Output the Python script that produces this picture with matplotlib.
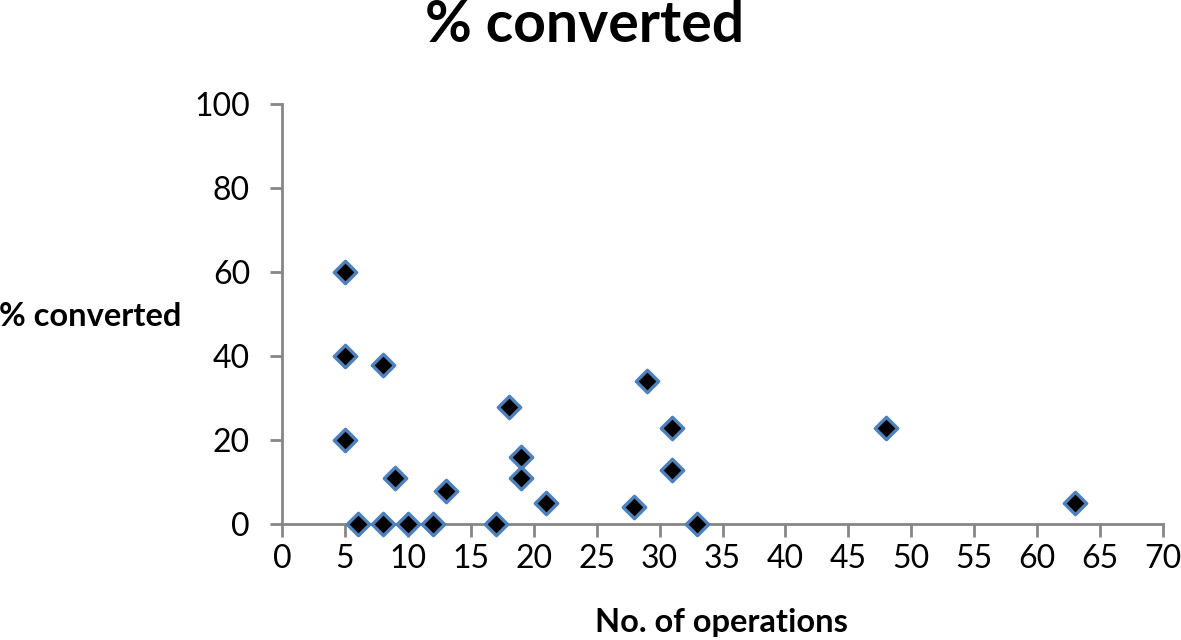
import matplotlib.pyplot as plt

operations = [5, 5, 5, 6, 8, 8, 9, 10, 12, 13, 17, 18, 19, 19, 21, 28, 29, 31, 31, 33, 48, 63]
converted = [60, 40, 20, 0, 38, 0, 11, 0, 0, 8, 0, 28, 16, 11, 5, 4, 34, 23, 13, 0, 23, 5]

plt.rcParams['font.family'] = ['Lato', 'DejaVu Sans']

fig = plt.figure(figsize=(11.81, 6.4), dpi=100)
ax = fig.add_axes([0.2388, 0.181, 0.746, 0.656])

ax.scatter(operations, converted, marker='D', s=130, facecolor='black',
           edgecolor='#4f81bd', linewidth=2.4, zorder=3, clip_on=False)

ax.set_xlim(0, 70)
ax.set_ylim(0, 100)
ax.set_xticks(range(0, 71, 5))
ax.set_yticks(range(0, 101, 20))

for s in ['top', 'right']:
    ax.spines[s].set_visible(False)
for s in ['left', 'bottom']:
    ax.spines[s].set_color('#868686')
    ax.spines[s].set_linewidth(2)

ax.tick_params(axis='both', direction='out', length=9, width=2, color='#868686',
               labelsize=23)
ax.tick_params(axis='y', pad=14)
ax.tick_params(axis='x', pad=5)

fig.text(0.495, 0.96, '% converted', ha='center', va='center',
         fontsize=41, fontweight='bold')
fig.text(0.076, 0.505, '% converted', ha='center', va='center',
         fontsize=23.5, fontweight='bold')
fig.text(0.611, 0.027, 'No. of operations', ha='center', va='center',
         fontsize=23.5, fontweight='bold')

fig.savefig('out.png', dpi=100)
